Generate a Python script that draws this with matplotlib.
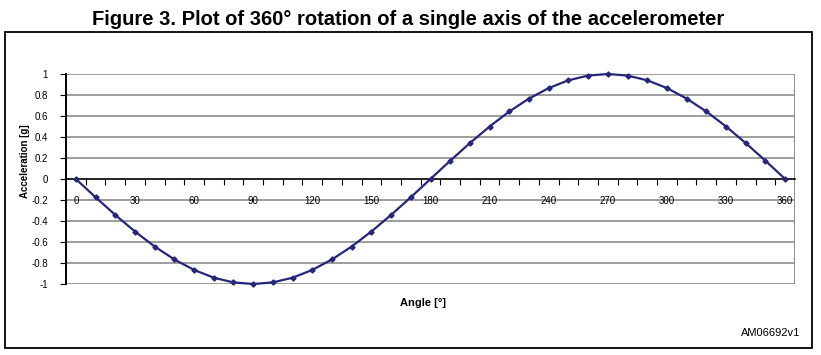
import matplotlib
matplotlib.use("Agg")
import matplotlib.pyplot as plt
from matplotlib.patches import Rectangle

angles = [0, 10, 20, 30, 40, 50, 60, 70, 80, 90, 100, 110, 120, 130, 140, 150, 160, 170,
          180, 190, 200, 210, 220, 230, 240, 250, 260, 270, 280, 290, 300, 310, 320, 330,
          340, 350, 360]
accel = [0.0, -0.174, -0.342, -0.5, -0.643, -0.766, -0.866, -0.94, -0.985, -1.0,
         -0.985, -0.94, -0.866, -0.766, -0.643, -0.5, -0.342, -0.174,
         0.0, 0.174, 0.342, 0.5, 0.643, 0.766, 0.866, 0.94, 0.985, 1.0,
         0.985, 0.94, 0.866, 0.766, 0.643, 0.5, 0.342, 0.174, 0.0]
x_labels = [0, 30, 60, 90, 120, 150, 180, 210, 240, 270, 300, 330, 360]
y_ticks = [-1, -0.8, -0.6, -0.4, -0.2, 0, 0.2, 0.4, 0.6, 0.8, 1]
y_labels = ["-1", "-0.8", "-0.6", "-0.4", "-0.2", "0", "0.2", "0.4", "0.6", "0.8", "1"]

plt.rcParams['font.family'] = ['Liberation Sans', 'DejaVu Sans']

W, H = 821, 355
fig = plt.figure(figsize=(W / 100, H / 100), dpi=100)
ax = fig.add_axes([66 / W, 1 - 284 / H, (795 - 66) / W, (284 - 74) / H])

line_color = '#26267a'
ax.plot(angles, accel, color=line_color, lw=1.6, marker='D', ms=2.6,
        mfc=line_color, mec=line_color, zorder=5, clip_on=False)

ax.set_xlim(-5, 365)
ax.set_ylim(-1, 1)

# gridlines
for yv in y_ticks:
    if yv != 0:
        ax.axhline(yv, color='#8c8c8c', lw=1.2, zorder=1)
ax.axvline(365, color='#8c8c8c', lw=1.4, zorder=1)

for s in ['top', 'right']:
    ax.spines[s].set_visible(False)
ax.spines['bottom'].set_position(('data', 0))
ax.spines['bottom'].set_color('black')
ax.spines['bottom'].set_linewidth(1.2)
ax.spines['left'].set_color('black')
ax.spines['left'].set_linewidth(1.4)

ax.set_yticks(y_ticks)
ax.set_yticklabels(y_labels)
ax.tick_params(axis='y', direction='out', length=4, width=0.8, pad=9, labelsize=7)

ax.set_xticks(x_labels)
ax.set_xticklabels([str(v) for v in x_labels])
ax.set_xticks([5 + 10 * k for k in range(36)], minor=True)
ax.tick_params(axis='x', which='major', length=0, pad=12, labelsize=7)
ax.tick_params(axis='x', which='minor', direction='out', length=4, width=0.8)

fig.text(25 / W, 1 - 161 / H, 'Acceleration [g]', rotation=90, ha='center', va='center',
         fontsize=7, fontweight='bold')
fig.text(423 / W, 1 - 303 / H, 'Angle [°]', ha='center', va='center',
         fontsize=8, fontweight='bold')
fig.text(800 / W, 1 - 336 / H, 'AM06692v1', ha='right', va='baseline', fontsize=8)
fig.text(408 / W, 1 - 25 / H, 'Figure 3. Plot of 360° rotation of a single axis of the accelerometer',
         ha='center', va='baseline', fontsize=14.5, fontweight='bold')

fig.patches.append(Rectangle((5 / W, 1 - 348 / H), 807 / W, 316 / H, transform=fig.transFigure,
                             fill=False, edgecolor='black', lw=1.3))

fig.savefig('out.png', dpi=100)
